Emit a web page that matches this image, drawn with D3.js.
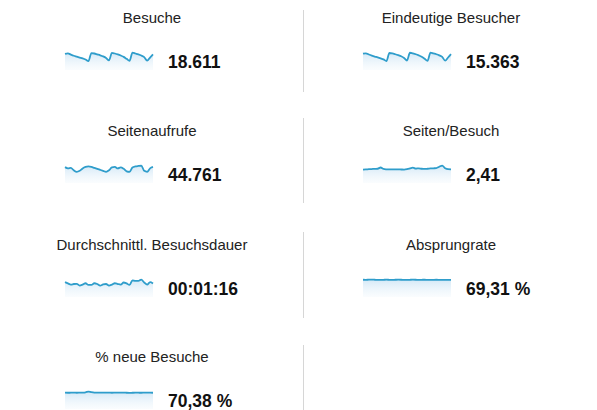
<!DOCTYPE html>
<html>
<head>
<meta charset="utf-8">
<script src="https://cdn.jsdelivr.net/npm/d3@7/dist/d3.min.js"></script>
<style>
  html, body { margin: 0; padding: 0; background: #fff; }
  svg { display: block; }
</style>
</head>
<body>
<svg id="chart" width="597" height="410"></svg>
<script>
// ---- data ----
const metricNames = ["Besuche", "Eindeutige Besucher", "Seitenaufrufe", "Seiten/Besuch",
  "Durchschnittl. Besuchsdauer", "Absprungrate", "% neue Besuche"];
const metricTotals = ["18.611", "15.363", "44.761", "2,41", "00:01:16", "69,31 %", "70,38 %"];

const besuche = [720, 745, 690, 640, 600, 560, 520, 470, 400, 760, 740, 700, 660, 610, 540, 430,
  770, 740, 700, 650, 590, 500, 410, 780, 740, 700, 650, 580, 420, 560, 700];
const eindeutigeBesucher = [600, 615, 570, 530, 495, 465, 430, 390, 330, 625, 610, 580, 545, 505, 445, 350,
  635, 610, 580, 540, 490, 415, 340, 640, 610, 580, 540, 480, 345, 460, 585];
const seitenaufrufe = [1625, 1496, 1545, 1296, 1147, 1246, 1496, 1645, 1695, 1645, 1545, 1446, 1346, 1246, 1147, 1296,
  1595, 1645, 1496, 1595, 1446, 1196, 1147, 1595, 1695, 1745, 1780, 1246, 1147, 1496, 1645];
const seitenProBesuch = [2.35, 2.38, 2.42, 2.45, 2.48, 2.50, 2.72, 2.46, 2.40, 2.38, 2.39, 2.40, 2.38, 2.37, 2.36, 2.42,
  2.55, 2.70, 2.52, 2.58, 2.50, 2.47, 2.50, 2.55, 2.58, 2.62, 2.85, 3.05, 2.60, 2.42, 2.40];
const besuchsdauer = [78, 71, 65, 68, 69, 60, 65, 72, 63, 63, 72, 68, 60, 66, 68, 60,
  65, 72, 68, 65, 76, 71, 63, 87, 84, 84, 91, 76, 65, 78, 71];
const absprungrate = [69.5, 69.2, 69.8, 70.1, 69.6, 69.0, 68.8, 69.4, 69.9, 69.3, 69.1, 69.5, 69.8, 69.6, 69.2, 68.9,
  69.4, 69.7, 69.5, 69.1, 69.3, 69.6, 69.0, 68.7, 69.2, 69.5, 69.3, 69.0, 68.8, 69.2, 69.4];
const neueBesuche = [70.2, 70.0, 70.3, 70.5, 70.1, 70.4, 70.8, 72.0, 75.0, 72.5, 70.9, 70.5, 70.3, 70.2, 70.6, 70.4,
  70.1, 70.3, 70.5, 70.2, 70.4, 70.0, 69.8, 70.1, 70.3, 70.2, 70.0, 70.4, 70.6, 70.3, 70.1];

const seriesList = [besuche, eindeutigeBesucher, seitenaufrufe, seitenProBesuch, besuchsdauer, absprungrate, neueBesuche];

// ---- layout ----
const svg = d3.select("#chart");
const rowOffsets = [0, 113, 227, 339];
const colCenters = [152, 451];
const sparkLeft = [65, 363];
const sparkWidth = 88;
const valueX = [168, 466];
const font = "'Liberation Sans', Arial, Helvetica, sans-serif";

const defs = svg.append("defs");
const grad = defs.append("linearGradient")
  .attr("id", "areaGrad").attr("x1", 0).attr("y1", 0).attr("x2", 0).attr("y2", 1);
grad.append("stop").attr("offset", "0%").attr("stop-color", "#c2dff3").attr("stop-opacity", 0.7);
grad.append("stop").attr("offset", "100%").attr("stop-color", "#e6f2fa").attr("stop-opacity", 0.2);

// dividers
const dividerSegments = [[10, 92], [118, 203], [232, 318], [345, 410]];
svg.selectAll("line.divider").data(dividerSegments).enter().append("line")
  .attr("class", "divider")
  .attr("x1", 303.5).attr("x2", 303.5)
  .attr("y1", d => d[0]).attr("y2", d => d[1])
  .attr("stroke", "#d6d6d6").attr("stroke-width", 1);

seriesList.forEach((values, i) => {
  const col = i % 2;
  const row = Math.floor(i / 2);
  const off = rowOffsets[row];
  const g = svg.append("g");

  // title
  g.append("text")
    .attr("x", colCenters[col]).attr("y", 23 + off)
    .attr("text-anchor", "middle")
    .attr("font-family", font).attr("font-size", 15)
    .attr("fill", "#222")
    .text(metricNames[i]);

  // sparkline
  const top = 50 + off, bottom = 70 + off;
  const x = d3.scaleLinear().domain([0, values.length - 1])
    .range([sparkLeft[col], sparkLeft[col] + sparkWidth]);
  const y = d3.scaleLinear().domain([0, d3.max(values) * 1.15]).range([bottom, top]);

  const area = d3.area().x((d, j) => x(j)).y0(bottom).y1(d => y(d)).curve(d3.curveMonotoneX);
  const line = d3.line().x((d, j) => x(j)).y(d => y(d)).curve(d3.curveMonotoneX);

  g.append("path").datum(values).attr("d", area).attr("fill", "url(#areaGrad)");
  g.append("path").datum(values).attr("d", line)
    .attr("fill", "none").attr("stroke", "#2f9dcb").attr("stroke-width", 1.8)
    .attr("stroke-linejoin", "round");

  // value
  g.append("text")
    .attr("x", valueX[col]).attr("y", 68 + off)
    .attr("font-family", font).attr("font-size", 17.5).attr("font-weight", "bold")
    .attr("fill", "#111")
    .text(metricTotals[i]);
});
</script>
</body>
</html>
